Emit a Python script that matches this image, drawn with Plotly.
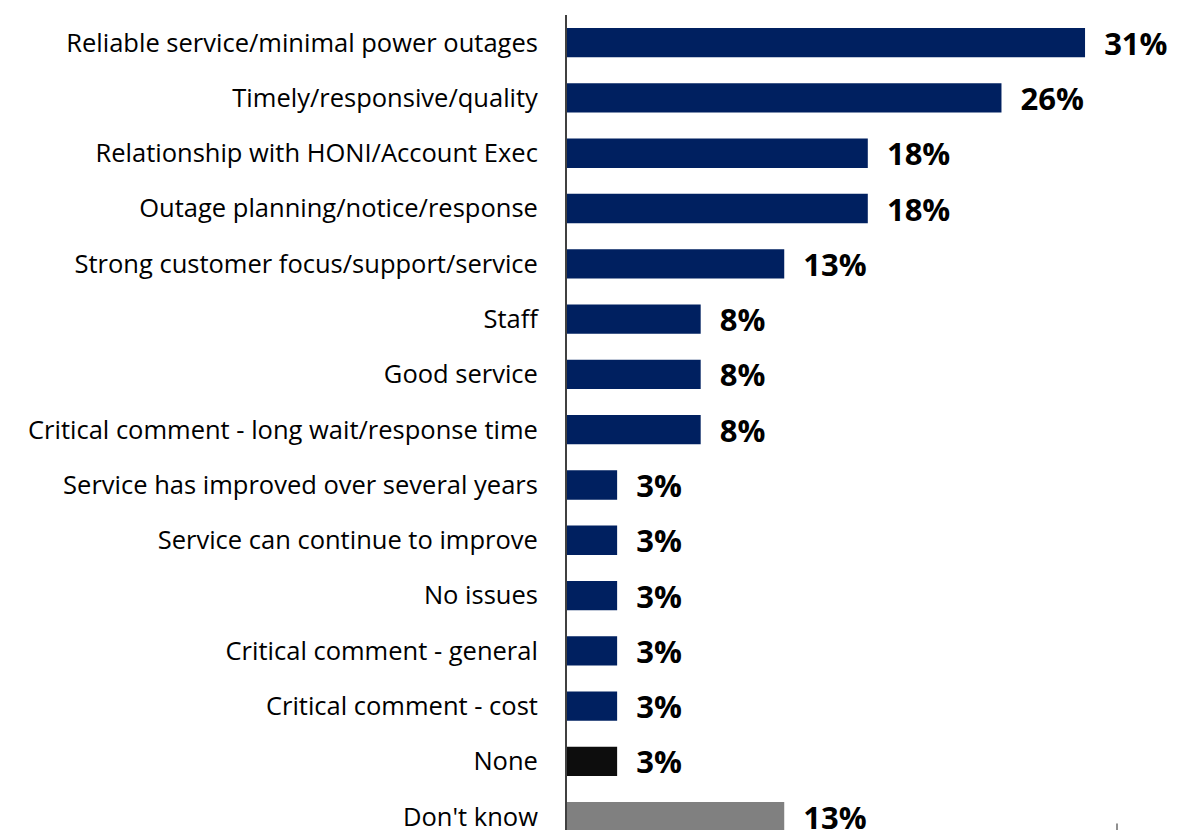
import plotly.graph_objects as go

categories = [
    "Reliable service/minimal power outages",
    "Timely/responsive/quality",
    "Relationship with HONI/Account Exec",
    "Outage planning/notice/response",
    "Strong customer focus/support/service",
    "Staff",
    "Good service",
    "Critical comment - long wait/response time",
    "Service has improved over several years",
    "Service can continue to improve",
    "No issues",
    "Critical comment - general",
    "Critical comment - cost",
    "None",
    "Don't know",
]
values = [31, 26, 18, 18, 13, 8, 8, 8, 3, 3, 3, 3, 3, 3, 13]
colors = ["#002060"] * 13 + ["#0d0d0d", "#808080"]

fig = go.Figure(
    go.Bar(
        y=categories,
        x=values,
        orientation="h",
        marker=dict(color=colors, line=dict(width=0)),
        width=0.53,
        texttemplate="  <b>%{x}%</b>",
        textposition="outside",
        constraintext="none",
        textfont=dict(family="Open Sans, sans-serif", size=31, color="#000000"),
        cliponaxis=False,
    )
)

# small tick fragment at the lower right edge
fig.add_shape(
    type="line", xref="paper", yref="paper",
    x0=0.873, x1=0.873, y0=0, y1=0.008,
    line=dict(color="#909090", width=2),
)

fig.update_layout(
    width=1197,
    height=833,
    margin=dict(l=567, r=0, t=15, b=0),
    plot_bgcolor="white",
    paper_bgcolor="white",
    showlegend=False,
    xaxis=dict(
        range=[0, 37.7],
        visible=False,
        fixedrange=True,
    ),
    yaxis=dict(
        type="category",
        categoryorder="array",
        categoryarray=categories,
        range=[14.24, -0.5],
        autorange=False,
        showline=True,
        linecolor="#404040",
        linewidth=2,
        showgrid=False,
        ticks="",
        ticklabelstandoff=22,
        tickfont=dict(family="Open Sans, sans-serif", size=25.5, color="#000000"),
    ),
)

fig.write_html("out.html")
